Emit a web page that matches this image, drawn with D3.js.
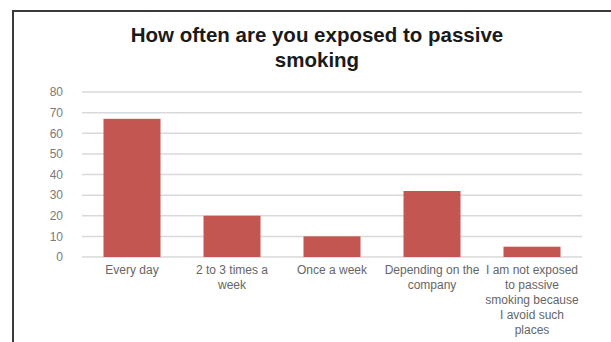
<!DOCTYPE html>
<html>
<head>
<meta charset="utf-8">
<script src="https://cdn.jsdelivr.net/npm/d3@7"></script>
<style>
  html, body { margin: 0; padding: 0; background: #fff; }
  svg { display: block; font-family: "Liberation Sans", Arial, sans-serif; }
</style>
</head>
<body>
<svg id="chart" width="611" height="342"></svg>
<script>
// Survey answers: how often respondents are exposed to passive smoking
const categories = [
  "Every day",
  "2 to 3 times a week",
  "Once a week",
  "Depending on the company",
  "I am not exposed to passive smoking because I avoid such places"
];
const counts = [67, 20, 10, 32, 5];
const yTicks = [0, 10, 20, 30, 40, 50, 60, 70, 80];
const titleLines = ["How often are you exposed to passive", "smoking"];

const svg = d3.select("#chart");

// frame of the chart area
svg.append("path")
  .attr("d", "M13,342 V11 H611")
  .attr("fill", "none")
  .attr("stroke", "#3a3a3a")
  .attr("stroke-width", 2);

const plot = { left: 82, right: 582, top: 92, bottom: 257 };

const x = d3.scaleBand()
  .domain(categories)
  .range([plot.left, plot.right])
  .paddingInner(0.43)
  .paddingOuter(0.215);

const y = d3.scaleLinear()
  .domain([0, 80])
  .range([plot.bottom, plot.top]);

// title
svg.append("text")
  .attr("x", 317)
  .attr("y", 42)
  .attr("text-anchor", "middle")
  .attr("font-size", 20.5)
  .attr("font-weight", "bold")
  .attr("fill", "#1a1a1a")
  .selectAll("tspan")
  .data(titleLines)
  .join("tspan")
  .attr("x", 317)
  .attr("dy", (d, i) => i === 0 ? 0 : 25)
  .text(d => d);

// horizontal gridlines
svg.append("g")
  .selectAll("line")
  .data(yTicks)
  .join("line")
  .attr("x1", plot.left)
  .attr("x2", plot.right)
  .attr("y1", d => y(d))
  .attr("y2", d => y(d))
  .attr("stroke", "#d9d9d9")
  .attr("stroke-width", 1.5);

// y axis labels
const yAxis = d3.axisLeft(y).tickValues(yTicks).tickSize(0).tickPadding(0);
svg.append("g")
  .attr("transform", "translate(63,0)")
  .call(yAxis)
  .call(g => g.select(".domain").remove())
  .call(g => g.selectAll("text")
    .attr("font-family", "'Liberation Sans', Arial, sans-serif")
    .attr("font-size", 12)
    .attr("fill", "#7a7a7a"));

// bars
svg.append("g")
  .selectAll("rect")
  .data(categories.map((c, i) => ({ c, v: counts[i] })))
  .join("rect")
  .attr("x", d => x(d.c))
  .attr("width", x.bandwidth())
  .attr("y", d => y(d.v))
  .attr("height", d => y(0) - y(d.v))
  .attr("fill", "#c45652");

// category labels, wrapped to the band width
const xAxis = d3.axisBottom(x).tickSize(0).tickPadding(0);
const xg = svg.append("g")
  .attr("transform", `translate(0,${plot.bottom})`)
  .call(xAxis)
  .call(g => g.select(".domain").remove());

xg.selectAll("text")
  .attr("font-family", "'Liberation Sans', Arial, sans-serif")
  .attr("font-size", 12)
  .attr("fill", "#666666")
  .attr("dy", null)
  .attr("y", 17)
  .each(function(label) {
    const text = d3.select(this);
    const words = label.split(" ");
    const maxWidth = 99;
    const lineHeight = 15;
    text.text(null);
    let line = [];
    let lineNo = 0;
    let tspan = text.append("tspan").attr("x", 0).attr("y", 17);
    for (const w of words) {
      line.push(w);
      tspan.text(line.join(" "));
      if (tspan.node().getComputedTextLength() > maxWidth && line.length > 1) {
        line.pop();
        tspan.text(line.join(" "));
        line = [w];
        lineNo++;
        tspan = text.append("tspan")
          .attr("x", 0)
          .attr("y", 17 + lineNo * lineHeight)
          .text(w);
      }
    }
  });
</script>
</body>
</html>
